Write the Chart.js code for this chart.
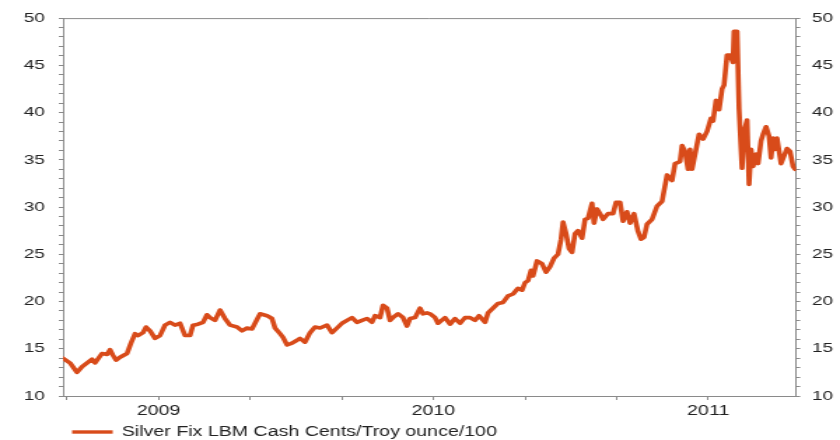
<!DOCTYPE html>
<html>
<head>
<meta charset="utf-8">
<script src="https://cdn.jsdelivr.net/npm/chart.js@4.4.1/dist/chart.umd.min.js"></script>
<style>
  html, body { margin: 0; padding: 0; background: #ffffff; }
  /* the source picture is stretched sideways, so the canvas is drawn narrow and widened by css */
  #silver-chart { display: block; width: 840px !important; height: 440px !important; }
</style>
</head>
<body>
<canvas id="silver-chart" width="600" height="440" style="width:840px;height:440px"></canvas>
<script>
// Days counted from the left edge of the plot
const dayIndex = [
    0, 7, 14, 19, 24, 29, 32, 39, 44, 47, 50, 53, 57, 64, 68, 72, 75, 80, 83, 87,
    92, 97, 102, 107, 112, 117, 122, 127, 130, 135, 140, 144, 147, 152, 157, 162, 167, 174, 179, 184,
    189, 194,
    197, 204, 209, 212, 217, 220, 224, 229, 234, 237, 242, 247, 252, 257, 264, 269, 274, 279, 284, 289,
    294, 299, 304, 309, 312, 317, 320, 324, 327, 330, 335, 340, 344, 347, 352, 357, 360, 364,
    367, 372, 375, 382, 387, 392, 397, 402, 407, 412, 416, 422, 425, 430, 435, 440, 445, 450, 455, 459,
    462, 465, 468, 470, 474, 479, 483, 487, 491, 495, 498, 500, 503, 506, 509, 512, 515, 519, 522, 525,
    529, 531, 534, 537, 540, 545, 550, 553, 557,
    560, 564, 567, 571, 575, 578, 581, 584, 589, 594, 599, 604, 609, 612, 617, 619, 622, 625, 627, 629,
    632, 636, 640, 644, 648, 650, 653, 656, 659, 661, 664, 667, 670, 671, 674, 676, 679, 681, 684, 686,
    688, 690, 693, 695, 698, 700, 703, 706, 708, 710, 712, 714, 718, 721, 724, 727, 730, 732
];

// Silver fix, USD per troy ounce
const silverPrice = [
    14.0, 13.5, 12.5, 13.1, 13.5, 13.9, 13.5, 14.5, 14.4, 14.9, 14.3, 13.8, 14.1, 14.5, 15.6, 16.6, 16.4, 16.7, 17.3, 16.9,
    16.1, 16.4, 17.5, 17.8, 17.5, 17.7, 16.4, 16.4, 17.5, 17.6, 17.8, 18.6, 18.3, 18.0, 19.1, 18.2, 17.5, 17.3, 16.9, 17.2,
    17.1, 18.1,
    18.7, 18.5, 18.2, 17.2, 16.6, 16.2, 15.4, 15.6, 15.9, 16.1, 15.7, 16.7, 17.3, 17.2, 17.5, 16.7, 17.2, 17.7, 18.0, 18.3,
    17.8, 18.0, 18.2, 17.8, 18.5, 18.3, 19.6, 19.3, 18.0, 18.3, 18.7, 18.3, 17.4, 18.2, 18.3, 19.3, 18.7, 18.8,
    18.7, 18.3, 17.7, 18.3, 17.6, 18.2, 17.7, 18.3, 18.3, 18.0, 18.5, 17.8, 18.8, 19.3, 19.8, 19.9, 20.6, 20.8, 21.4, 21.2,
    22.0, 22.2, 23.3, 22.7, 24.3, 24.0, 23.1, 23.7, 24.6, 25.0, 26.6, 28.4, 27.2, 25.6, 25.2, 27.2, 27.5, 26.7, 28.7, 28.8,
    30.4, 28.3, 29.8, 29.3, 28.7, 29.3, 29.3, 30.5, 30.5,
    28.5, 29.5, 28.3, 29.3, 27.4, 26.6, 26.8, 28.2, 28.7, 30.1, 30.6, 33.4, 32.8, 34.6, 34.8, 36.5, 35.9, 34.0, 36.1, 34.0,
    35.6, 37.7, 37.2, 38.0, 39.4, 39.1, 41.3, 40.3, 42.5, 42.9, 46.1, 46.1, 45.3, 48.6, 48.6, 40.4, 34.1, 38.0, 39.2, 32.4,
    36.1, 34.3, 35.6, 34.6, 37.0, 37.7, 38.5, 37.5, 35.2, 37.3, 36.1, 37.3, 34.6, 35.4, 36.2, 35.9, 34.3, 34.0
];

// x axis tick marks (same day units) and their labels
const xTickDays = [4, 95.6, 187.2, 278.8, 370.4, 462, 553.6, 645.2];
const xTickLabels = ['', '2009', '', '', '2010', '', '', '2011'];

const seriesLabel = 'Silver Fix LBM Cash Cents/Troy ounce/100';
const lineColor = '#d84b1a';
const axisColor = '#8a8a8a';
const textColor = '#222222';
const fontFamily = "'Liberation Sans', Arial, sans-serif";

Chart.defaults.font.family = fontFamily;
Chart.defaults.color = textColor;

// top frame line and the legend under the axis
const frameAndLegend = {
    id: 'frameAndLegend',
    afterDraw(chart) {
        const ctx = chart.ctx;
        const area = chart.chartArea;
        const ds = chart.data.datasets[0];

        ctx.save();
        ctx.strokeStyle = axisColor;
        ctx.lineWidth = 1;
        ctx.beginPath();
        ctx.moveTo(area.left, area.top + 0.5);
        ctx.lineTo(area.right, area.top + 0.5);
        ctx.stroke();

        const y = area.bottom + 36;
        const x0 = area.left + 6.5;
        ctx.strokeStyle = ds.borderColor;
        ctx.lineWidth = 3.4;
        ctx.beginPath();
        ctx.moveTo(x0, y);
        ctx.lineTo(x0 + 29, y);
        ctx.stroke();

        ctx.fillStyle = textColor;
        ctx.font = '14px ' + fontFamily;
        ctx.textBaseline = 'middle';
        ctx.textAlign = 'left';
        ctx.fillText(ds.label, x0 + 35.5, y);
        ctx.restore();
    }
};

function yAxis(position, width, padding) {
    return {
        type: 'linear',
        position: position,
        min: 10,
        max: 50,
        grid: { drawOnChartArea: false, drawTicks: true, tickLength: 3, color: axisColor, tickColor: axisColor },
        border: { display: true, color: axisColor, width: 1 },
        ticks: {
            stepSize: 1,
            autoSkip: false,
            padding: padding,
            font: { size: 13.5 },
            color: textColor,
            callback: value => (value % 5 === 0 ? String(value) : '')
        },
        afterFit: scale => { scale.width = width; }
    };
}

const ctx = document.getElementById('silver-chart').getContext('2d');

const chart = new Chart(ctx, {
    type: 'line',
    data: {
        datasets: [{
            label: seriesLabel,
            data: dayIndex.map((d, i) => ({ x: d, y: silverPrice[i] })),
            borderColor: lineColor,
            backgroundColor: lineColor,
            borderWidth: 3.6,
            borderJoinStyle: 'round',
            borderCapStyle: 'round',
            pointRadius: 0,
            tension: 0,
            yAxisID: 'y'
        }]
    },
    options: {
        responsive: false,
        devicePixelRatio: 1,
        animation: false,
        layout: { padding: { top: 16, left: 0, right: 0, bottom: 0 } },
        scales: {
            x: {
                type: 'linear',
                min: 0,
                max: 733,
                grid: { drawOnChartArea: false, drawTicks: true, tickLength: 4, color: axisColor, tickColor: axisColor },
                border: { display: true, color: axisColor, width: 1 },
                ticks: {
                    autoSkip: false,
                    maxRotation: 0,
                    padding: 3,
                    font: { size: 14 },
                    color: textColor,
                    callback: (value, index) => xTickLabels[index]
                },
                afterBuildTicks: scale => {
                    scale.ticks = xTickDays.map(v => ({ value: v }));
                },
                afterFit: scale => { scale.height = 44; }
            },
            y: yAxis('left', 45, 10),
            y2: yAxis('right', 31.4, 8.4)
        },
        plugins: {
            legend: { display: false },
            tooltip: { enabled: false }
        }
    },
    plugins: [frameAndLegend]
});
</script>
</body>
</html>
